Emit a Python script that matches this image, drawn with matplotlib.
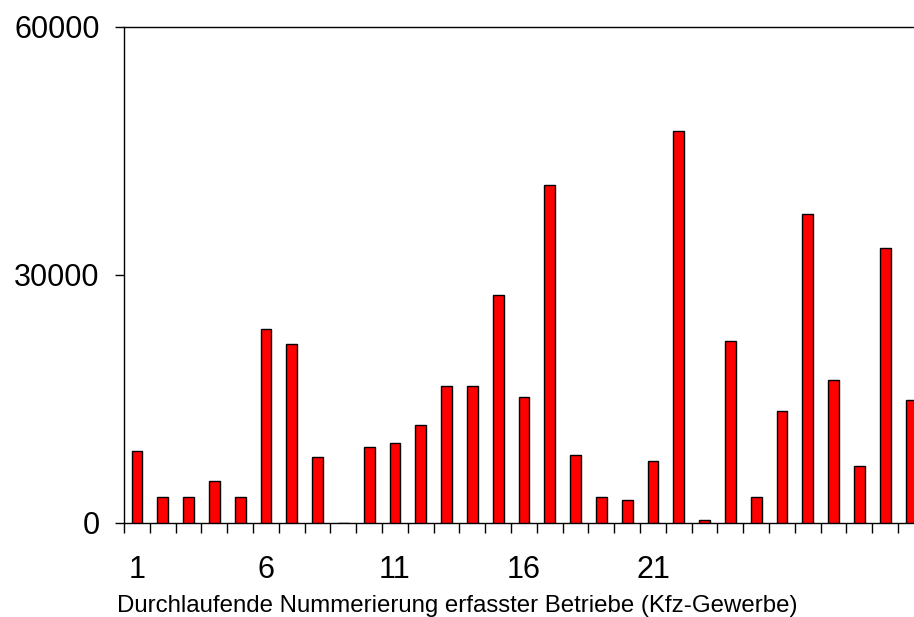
import matplotlib
matplotlib.use("Agg")
from matplotlib import pyplot as plt
from matplotlib.ticker import FixedLocator

plt.rcParams['font.family'] = ['Liberation Sans', 'DejaVu Sans']

# Daten: durchlaufende Nummer der Betriebe und Werte
betriebe = list(range(1, 32))
werte = [8700, 3100, 3100, 5100, 3100, 23400, 21600, 7950, 0, 9100,
         9650, 11850, 16550, 16550, 27600, 15250, 40850, 8170, 3100, 2750,
         7450, 47400, 290, 22000, 3100, 13500, 37400, 17270, 6900, 33200,
         14900]
beschriftete = [1, 6, 11, 16, 21]
y_ticks = [0, 30000, 60000]

fig = plt.figure(figsize=(9.14, 6.17), dpi=100)
# Achse reicht rechts ueber den Bildrand hinaus (wie im Original abgeschnitten)
ax = fig.add_axes([0.1357, 0.1528, 0.9033, 0.804])

ax.bar(betriebe, werte, width=0.42, color='#ff0000', edgecolor='black',
       linewidth=1.0, zorder=3)

ax.set_xlim(0.5, 32.5)
ax.set_ylim(0, 60000)

for s in ['left', 'bottom', 'top', 'right']:
    ax.spines[s].set_linewidth(1.0)

ax.set_yticks(y_ticks)
ax.set_yticklabels([str(v) for v in y_ticks])
ax.tick_params(axis='y', direction='out', length=6.5, width=1.0,
               labelsize=22, pad=11)

# Striche an den Kategoriegrenzen, Beschriftung in der Kategoriemitte
ax.xaxis.set_major_locator(FixedLocator([i + 0.5 for i in range(0, 33)]))
ax.xaxis.set_minor_locator(FixedLocator(beschriftete))
ax.tick_params(axis='x', which='major', direction='out', length=7.2,
               width=1.0, labelbottom=False)
ax.tick_params(axis='x', which='minor', length=0, labelsize=22, pad=23)
ax.set_xticklabels([str(b) for b in beschriftete], minor=True)

# Achsentitel mittig im Bild
fig.text(0.5, 0.0086, 'Durchlaufende Nummerierung erfasster Betriebe (Kfz-Gewerbe)',
         fontsize=17.3, ha='center', va='baseline')

fig.savefig('out.png', dpi=100)
